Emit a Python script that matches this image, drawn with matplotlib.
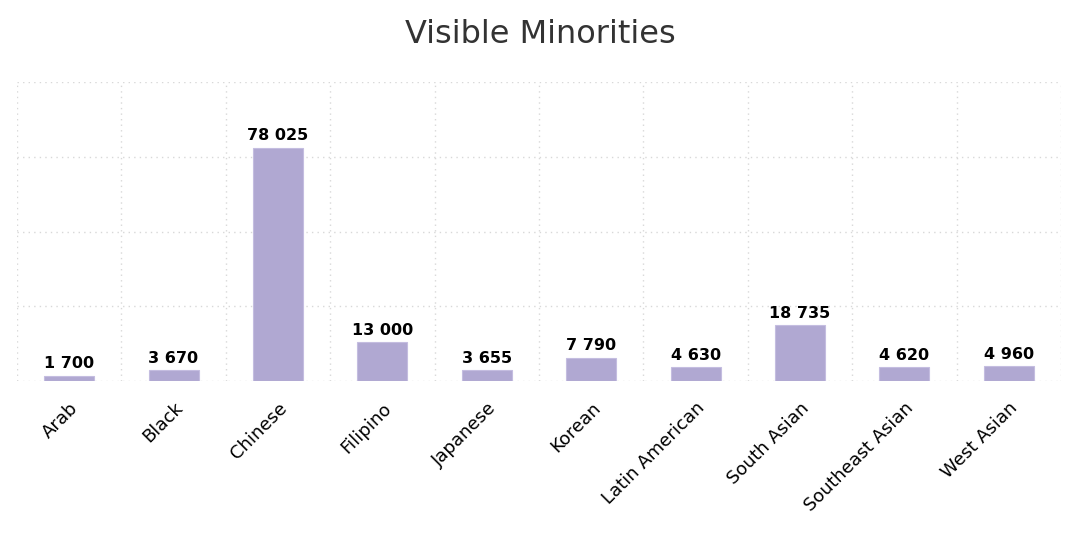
import matplotlib.pyplot as plt
import numpy as np

# data
categories = ['Arab', 'Black', 'Chinese', 'Filipino', 'Japanese', 'Korean',
              'Latin American', 'South Asian', 'Southeast Asian', 'West Asian']
counts = [1700, 3670, 78025, 13000, 3655, 7790, 4630, 18735, 4620, 4960]
y_ticks = [0, 25000, 50000, 75000, 100000]

fig = plt.figure(figsize=(10.8, 5.4), dpi=100)
ax = fig.add_axes([0.0157, 0.2944, 0.9667, 0.5536])

x = np.arange(len(categories))
ax.bar(x, counts, width=0.48, color='#b0a8d2', edgecolor='#c4bde0', linewidth=0.8, zorder=2)

for xi, v in zip(x, counts):
    ax.text(xi, v + 1500, f"{v:,}".replace(',', ' '), ha='center', va='bottom',
            fontsize=11.5, fontweight='bold', color='black')

ax.set_xlim(-0.5, len(categories) - 0.5)
ax.set_ylim(800, 100000)
ax.set_yticks(y_ticks)
ax.set_yticklabels([])
ax.set_xticks(x)
ax.set_xticklabels(categories, rotation=45, ha='right', rotation_mode='anchor', fontsize=13)
ax.set_xticks(np.arange(-0.5, len(categories)), minor=True)
ax.tick_params(axis='both', which='both', length=0)
ax.tick_params(axis='x', pad=13)

ax.grid(True, which='minor', axis='x', linestyle=(0, (1, 3)), color='#d8d8d8', linewidth=1)
ax.grid(True, which='major', axis='y', linestyle=(0, (1, 3)), color='#d8d8d8', linewidth=1)
ax.set_axisbelow(True)
for s in ax.spines.values():
    s.set_visible(False)

fig.suptitle('Visible Minorities', fontsize=23, color='#333333', y=0.937, va='center')

fig.savefig('out.png', dpi=100)
